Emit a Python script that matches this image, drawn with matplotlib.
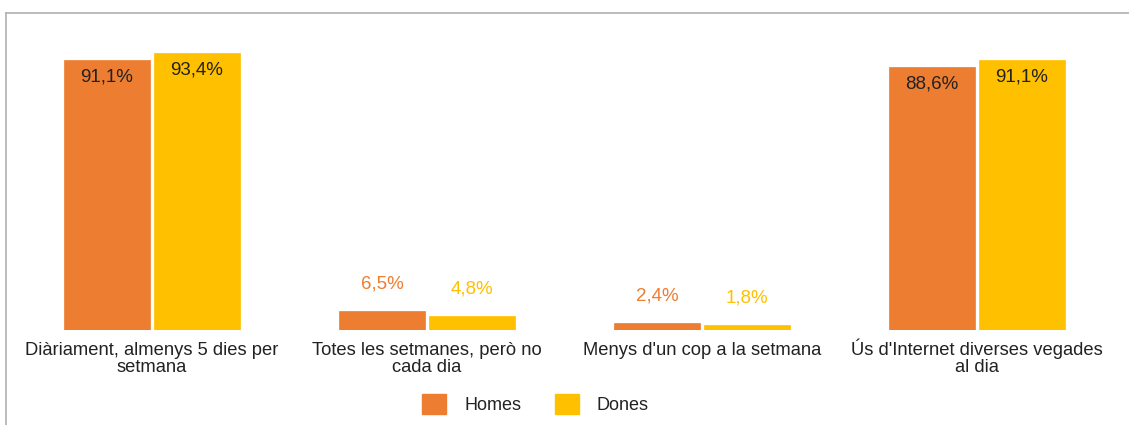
import matplotlib
matplotlib.use("Agg")
import matplotlib.pyplot as plt
from matplotlib.patches import Patch
from matplotlib.lines import Line2D
import numpy as np

plt.rcParams['font.family'] = ['Liberation Sans', 'DejaVu Sans']

categories = ["Diàriament, almenys 5 dies per\nsetmana",
              "Totes les setmanes, però no\ncada dia",
              "Menys d'un cop a la setmana",
              "Ús d'Internet diverses vegades\nal dia"]
homes = [91.1, 6.5, 2.4, 88.6]
dones = [93.4, 4.8, 1.8, 91.1]
series_names = ["Homes", "Dones"]
colors = ["#ED7D31", "#FFC000"]

W, H = 1129, 425
fig = plt.figure(figsize=(W / 100, H / 100), dpi=100)
ax = fig.add_axes([0, (H - 330) / H, 1, 296.4 / H])
ax.set_xlim(-0.553, 3.553)
ax.set_ylim(0, 100)
ax.axis('off')

x = np.arange(len(categories))
bw = 86 / 275
off = 45 / 275
for vals, c, sgn in [(homes, colors[0], -1), (dones, colors[1], 1)]:
    bars = ax.bar(x + sgn * off, vals, width=bw, color=c, edgecolor=c, linewidth=0.5)
    for xi, v in zip(x + sgn * off, vals):
        lab = f"{v:.1f}%".replace('.', ',')
        if v > 20:
            ax.annotate(lab, (xi, v), xytext=(0, -17), textcoords='offset pixels',
                        ha='center', va='center', fontsize=13.5, color='#222222')
        else:
            ax.annotate(lab, (xi, v), xytext=(0, 27), textcoords='offset pixels',
                        ha='center', va='center', fontsize=13.5, color=c)

for xi, cat in zip(x, categories):
    for k, line in enumerate(cat.split("\n")):
        ax.annotate(line, (xi, 0), xytext=(0, -25 - 17.5 * k), textcoords='offset pixels',
                    ha='center', va='baseline', fontsize=13.2, color='#222222')

# border
fig.add_artist(Line2D([6 / W, 1], [(H - 13) / H] * 2, color='#b0b0b0', lw=1.2))
fig.add_artist(Line2D([6 / W, 6 / W], [0, (H - 13) / H], color='#b0b0b0', lw=1.2))

handles = [Patch(facecolor=c, edgecolor=c) for c in colors]
fig.legend(handles, series_names, loc='center', bbox_to_anchor=(535.5 / W, (H - 404) / H),
           ncol=2, frameon=False, fontsize=13, handlelength=1.33, handleheight=1.33,
           columnspacing=1.83, handletextpad=1.0, labelcolor='#222222')

fig.savefig("out.png", dpi=100)
